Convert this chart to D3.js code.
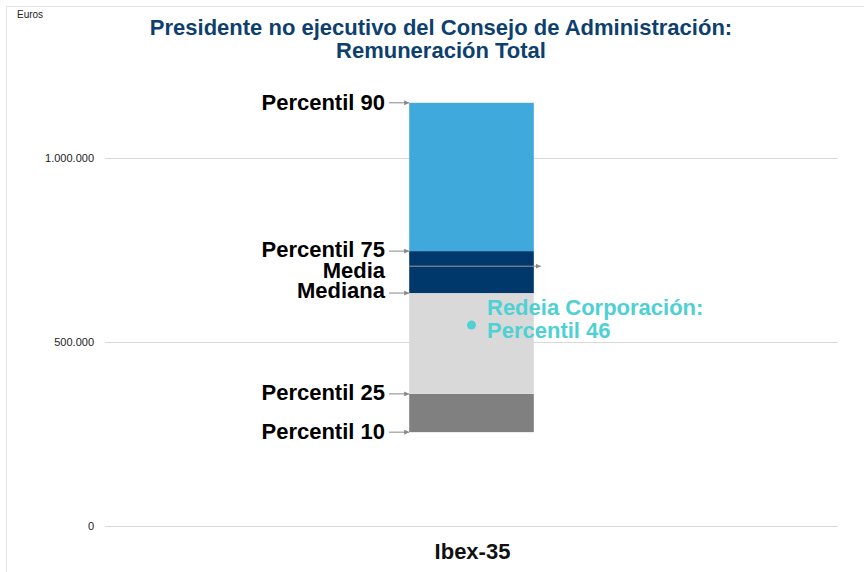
<!DOCTYPE html>
<html><head><meta charset="utf-8">
<script src="https://cdn.jsdelivr.net/npm/d3@7"></script>
<style>body{margin:0;background:#fff;}svg{display:block;font-family:"Liberation Sans",Arial,sans-serif;}</style>
</head><body>
<script>
const titleLines = ["Presidente no ejecutivo del Consejo de Administración:", "Remuneración Total"];
const category = ["Ibex-35"];
const yTicks = [0, 500000, 1000000];
const yTickLabels = ["0", "500.000", "1.000.000"];
const stats = ["Percentil 10", "Percentil 25", "Mediana", "Media", "Percentil 75", "Percentil 90"];
const statValues = [255000, 359000, 633000, 706000, 747000, 1150000];
const segmentNames = ["P10-P25", "P25-Mediana", "Mediana-P75", "P75-P90"];
const segmentColors = ["#808080", "#d9d9d9", "#00386b", "#3fa9dc"];
const companyLabel = ["Redeia Corporación:", "Percentil 46"];
const companyValue = 546000;

const W = 864, H = 572;
const svg = d3.select("body").append("svg").attr("width", W).attr("height", H);

// frame
svg.append("line").attr("x1",6).attr("x2",W).attr("y1",6.5).attr("y2",6.5).attr("stroke","#e3e3e3");
svg.append("line").attr("x1",6.5).attr("x2",6.5).attr("y1",6).attr("y2",H).attr("stroke","#e3e3e3");

const y = d3.scaleLinear().domain([0, 1000000]).range([526, 158]);
const x = d3.scaleBand().domain(category).range([105, 838]).paddingInner(0.83).paddingOuter(0.415);

// gridlines
svg.append("g").selectAll("line").data(yTicks).join("line")
  .attr("x1",105).attr("x2",838).attr("y1",d=>Math.round(y(d))+0.5).attr("y2",d=>Math.round(y(d))+0.5)
  .attr("stroke","#d9d9d9");

const yAxis = d3.axisLeft(y).tickValues(yTicks).tickFormat((d,i)=>yTickLabels[i]).tickSize(0).tickPadding(0);
const gy = svg.append("g").attr("transform","translate(94,0)").call(yAxis);
gy.select(".domain").remove();
gy.selectAll("text").attr("font-size",11).attr("fill","#222").attr("font-family","'Liberation Sans Narrow','Liberation Sans',Arial");

svg.append("text").attr("x",17).attr("y",18).attr("font-size",10).attr("fill","#222")
  .attr("font-family","'Liberation Sans Narrow','Liberation Sans',Arial").text("Euros");

// title
svg.append("g").selectAll("text").data(titleLines).join("text")
  .attr("x",441).attr("y",(d,i)=>35+i*23).attr("text-anchor","middle")
  .attr("font-size",22).attr("font-weight","bold").attr("fill","#0d3f6f").text(d=>d);

// stacked segments
const p10=statValues[0], p25=statValues[1], med=statValues[2], mean=statValues[3], p75=statValues[4], p90=statValues[5];
const segs = [[p10,p25],[p25,med],[med,p75],[p75,p90]];
const bx = x(category[0]), bw = x.bandwidth();
svg.append("g").selectAll("rect").data(segs).join("rect")
  .attr("x",bx).attr("width",bw)
  .attr("y",d=>y(d[1])).attr("height",d=>y(d[0])-y(d[1]))
  .attr("fill",(d,i)=>segmentColors[i]);

// category label
svg.append("text").attr("x",bx+bw/2+1).attr("y",559).attr("text-anchor","middle")
  .attr("font-size",22).attr("font-weight","bold").attr("fill","#111").text(category[0]);

// markers
const defs = svg.append("defs");
defs.append("marker").attr("id","arr").attr("viewBox","0 0 6 6").attr("refX",6).attr("refY",3)
  .attr("markerWidth",5).attr("markerHeight",5).attr("orient","auto")
  .append("path").attr("d","M0,0L6,3L0,6Z").attr("fill","#888");

// stat labels
const labelX = 385;
const labelOffsets = {"Percentil 10":7,"Percentil 25":6,"Mediana":5,"Media":12,"Percentil 75":6,"Percentil 90":7};
stats.forEach((s,i)=>{
  const yy = y(statValues[i]);
  svg.append("text").attr("x",labelX).attr("y",yy+labelOffsets[s]).attr("text-anchor","end")
    .attr("font-size",22).attr("font-weight","bold").attr("fill","#000").text(s);
  if (s === "Media") {
    svg.append("line").attr("x1",bx).attr("x2",bx+bw+7).attr("y1",yy).attr("y2",yy)
      .attr("stroke","#999").attr("stroke-width",1).attr("marker-end","url(#arr)");
  } else {
    svg.append("line").attr("x1",labelX+4).attr("x2",bx).attr("y1",yy).attr("y2",yy)
      .attr("stroke","#888").attr("stroke-width",1).attr("marker-end","url(#arr)");
  }
});

// company point
svg.append("circle").attr("cx",bx+bw/2).attr("cy",y(companyValue)).attr("r",4.5).attr("fill","#4fd0d3");
svg.append("g").selectAll("text").data(companyLabel).join("text")
  .attr("x",487).attr("y",(d,i)=>y(companyValue)-10+i*23)
  .attr("font-size",22).attr("font-weight","bold").attr("fill","#4fd0d3").text(d=>d);
</script>
</body></html>
